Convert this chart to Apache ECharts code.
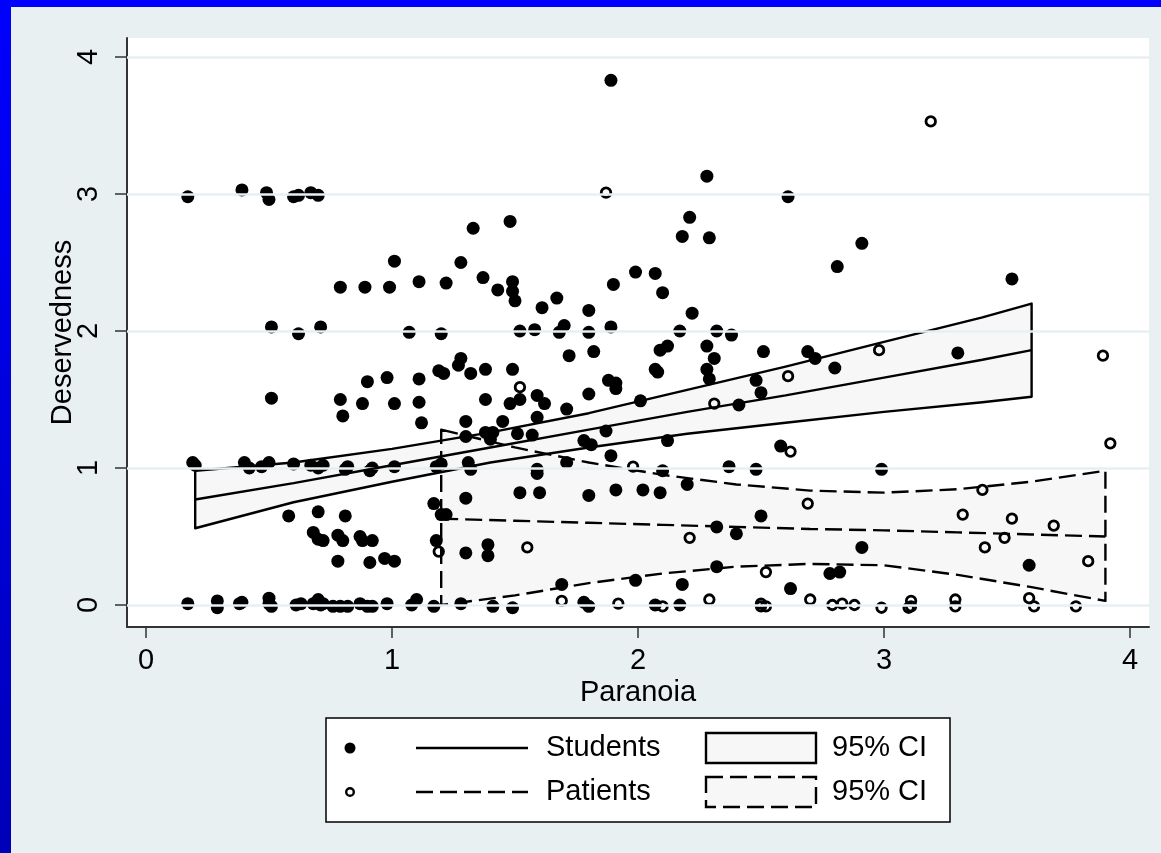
<!DOCTYPE html>
<html>
<head>
<meta charset="utf-8">
<script src="https://cdn.jsdelivr.net/npm/echarts@6/dist/echarts.min.js"></script>
<style>
  html, body { margin: 0; padding: 0; background: #E8F0F2; }
  #chart { width: 1161px; height: 853px; }
</style>
</head>
<body>
<div id="chart"></div>
<script>
// Students: [paranoia, deservedness]
const students = [
  [1.89,3.83],[0.17,2.98],[0.39,3.03],[0.49,3.01],[0.50,2.96],[0.60,2.98],[0.62,2.99],[0.67,3.01],[0.70,2.99],
  [2.28,3.13],[2.61,2.98],[1.48,2.80],[1.33,2.75],[2.21,2.83],[2.18,2.69],[2.29,2.68],[2.91,2.64],[1.28,2.50],
  [1.01,2.51],[2.81,2.47],[1.99,2.43],[2.07,2.42],[1.37,2.39],[3.52,2.38],[0.79,2.32],[0.89,2.32],[0.99,2.32],
  [1.11,2.36],[1.22,2.35],[1.43,2.30],[1.49,2.36],[1.49,2.29],[1.50,2.22],[1.90,2.34],[2.10,2.28],[1.67,2.24],
  [1.61,2.17],[1.80,2.15],[2.22,2.13],[0.51,2.03],[0.62,1.98],[0.71,2.03],[1.07,1.99],[1.20,1.98],[1.52,2.00],
  [1.58,2.01],[1.68,1.99],[1.70,2.04],[1.80,1.99],[1.89,2.03],[2.17,2.00],[2.32,2.00],[2.38,1.97],[1.72,1.82],
  [1.82,1.85],[2.09,1.86],[2.12,1.89],[2.28,1.89],[2.31,1.80],[2.51,1.85],[2.69,1.85],[2.72,1.80],[2.80,1.73],
  [3.30,1.84],[1.11,1.65],[1.19,1.71],[1.21,1.69],[1.28,1.80],[1.27,1.75],[1.32,1.69],[1.38,1.72],[1.49,1.72],
  [2.07,1.72],[2.08,1.70],[2.28,1.72],[2.29,1.65],[1.88,1.64],[1.91,1.62],[1.91,1.58],[1.80,1.54],[2.48,1.64],
  [2.50,1.55],[2.41,1.46],[0.90,1.63],[0.98,1.66],[0.51,1.51],[0.79,1.50],[0.80,1.38],[0.88,1.47],[1.01,1.47],
  [1.11,1.48],[1.38,1.50],[1.48,1.47],[1.52,1.50],[1.59,1.53],[1.62,1.47],[1.71,1.43],[2.01,1.49],[1.12,1.33],
  [1.30,1.34],[1.45,1.34],[1.59,1.37],[1.87,1.27],[1.51,1.25],[1.57,1.24],[1.30,1.23],[1.38,1.26],[1.40,1.21],
  [1.41,1.26],[1.78,1.20],[1.81,1.17],[2.12,1.20],[1.89,1.09],[2.58,1.16],[1.20,1.03],[1.18,1.01],[1.31,1.04],
  [1.32,0.99],[1.71,1.04],[1.59,0.99],[1.59,0.96],[2.10,0.98],[2.37,1.01],[2.48,0.99],[2.99,0.99],[2.20,0.88],
  [2.50,0.65],[2.32,0.57],[2.40,0.52],[2.91,0.42],[3.59,0.29],[2.32,0.28],[2.78,0.23],[2.82,0.24],[2.62,0.12],
  [1.52,0.82],[1.60,0.82],[1.80,0.80],[1.91,0.84],[2.02,0.84],[2.09,0.82],[1.30,0.78],[1.17,0.74],
  [0.19,1.04],[0.20,1.02],[0.40,1.04],[0.42,1.00],[0.47,1.01],[0.50,1.04],[0.60,1.03],[0.67,1.02],[0.70,1.00],
  [0.72,1.02],[0.81,0.99],[0.82,1.01],[0.91,0.98],[0.92,1.00],[1.01,1.01],
  [0.58,0.65],[0.81,0.65],[0.70,0.68],[0.68,0.53],[0.70,0.48],[0.72,0.47],[0.78,0.51],[0.80,0.47],[0.87,0.50],
  [0.88,0.47],[0.92,0.47],[0.78,0.32],[0.91,0.31],[0.97,0.34],[1.01,0.32],[1.18,0.47],[1.20,0.66],[1.22,0.66],
  [1.30,0.38],[1.39,0.44],[1.39,0.36],
  [0.17,0.01],[0.29,0.03],[0.29,-0.02],[0.38,0.01],[0.39,0.02],[0.50,0.05],[0.50,0.01],[0.51,-0.01],[0.61,0.00],
  [0.63,0.01],[0.68,0.01],[0.70,0.04],[0.71,0.00],[0.72,0.01],[0.76,-0.01],[0.79,-0.01],[0.82,-0.01],[0.87,0.01],
  [0.90,-0.01],[0.92,-0.01],[0.98,0.01],[1.08,0.00],[1.10,0.04],[1.17,-0.01],[1.28,0.01],[1.41,-0.01],[1.49,-0.02],
  [1.78,0.02],[1.80,-0.01],[2.07,0.00],[2.17,0.00],[1.69,0.15],[1.99,0.18],[2.18,0.15]
];

// Patients: [paranoia, deservedness]
const patients = [
  [1.87,3.01],[3.19,3.53],[1.52,1.59],[2.98,1.86],[2.61,1.67],[2.31,1.47],[3.89,1.82],[3.92,1.18],[2.62,1.12],
  [1.98,1.01],[2.69,0.74],[3.40,0.84],[3.32,0.66],[3.52,0.63],[3.49,0.49],[3.69,0.58],[3.41,0.42],[3.83,0.32],
  [2.52,0.24],[2.21,0.49],[1.55,0.42],[1.19,0.39],[1.69,0.03],[1.92,0.01],[2.10,-0.01],[2.29,0.04],[2.50,0.01],
  [2.50,-0.01],[2.52,-0.01],[2.70,0.04],[2.79,0.00],[2.83,0.01],[2.88,0.00],[2.99,-0.02],[3.11,0.03],[3.11,-0.01],
  [3.10,-0.02],[3.29,0.04],[3.29,-0.01],[3.59,0.05],[3.61,-0.01],[3.78,-0.01]
];

// Fitted line and 95% CI, students
const studentFitX  = [0.2, 0.6, 1.0, 1.4, 1.8, 2.2, 2.6, 3.0, 3.4, 3.6];
const studentFit   = [0.77, 0.89, 1.02, 1.15, 1.28, 1.41, 1.53, 1.66, 1.79, 1.86];
const studentUpper = [0.98, 1.04, 1.14, 1.26, 1.40, 1.57, 1.74, 1.92, 2.10, 2.20];
const studentLower = [0.56, 0.75, 0.90, 1.04, 1.15, 1.25, 1.33, 1.41, 1.48, 1.52];

// Fitted line and 95% CI, patients
const patientFitX  = [1.2, 1.5, 1.8, 2.1, 2.4, 2.7, 3.0, 3.3, 3.6, 3.9];
const patientFit   = [0.63, 0.615, 0.60, 0.585, 0.57, 0.555, 0.545, 0.53, 0.515, 0.50];
const patientUpper = [1.28, 1.15, 1.04, 0.95, 0.88, 0.835, 0.82, 0.845, 0.90, 0.98];
const patientLower = [0.00, 0.07, 0.16, 0.23, 0.28, 0.30, 0.29, 0.22, 0.13, 0.03];

const xTicks = [0, 1, 2, 3, 4];
const yTicks = [0, 1, 2, 3, 4];

const FONT = "'Liberation Sans', Arial, Helvetica, sans-serif";
const FS = 29;
const DASH = [17, 7];
const zip = (xs, ys) => xs.map((x, i) => [x, ys[i]]);

// Closed band polygon (upper edge left→right, lower edge right→left)
function bandSeries(xs, up, lo, mode, dashed, z) {
  return {
    type: 'custom',
    z: z,
    silent: true,
    data: [[xs[0], up[0]]],
    renderItem: function (params, api) {
      const pts = [];
      xs.forEach((x, i) => pts.push(api.coord([x, up[i]])));
      for (let i = xs.length - 1; i >= 0; i--) pts.push(api.coord([xs[i], lo[i]]));
      const style = mode === 'fill'
        ? { fill: '#F7F7F7', stroke: null }
        : { fill: null, stroke: '#000', lineWidth: 2.4, lineDash: dashed ? DASH : null, lineJoin: 'round' };
      return { type: 'polygon', shape: { points: pts }, style: style };
    }
  };
}

const chart = echarts.init(document.getElementById('chart'), null, { renderer: 'canvas' });

// Legend geometry
const LX = 326, LY = 718, LW = 624, LH = 104;
const row1 = 748, row2 = 792;

chart.setOption({
  backgroundColor: '#E8F0F2',
  animation: false,
  textStyle: { fontFamily: FONT },
  grid: {
    left: 127, right: 12, top: 38, bottom: 226,
    show: true, backgroundColor: '#FFFFFF', borderWidth: 0
  },
  xAxis: {
    type: 'value',
    min: -0.0772, max: 4.0772,
    name: 'Paranoia',
    nameLocation: 'middle',
    nameGap: 51,
    nameMoveOverlap: false,
    nameTextStyle: { fontSize: FS, color: '#000', fontFamily: FONT },
    axisLine: { onZero: false, lineStyle: { color: '#333', width: 2 } },
    axisTick: { length: 11, customValues: xTicks, lineStyle: { color: '#333', width: 1.5 } },
    axisLabel: { customValues: xTicks, fontSize: FS, color: '#000', margin: 19, fontFamily: FONT },
    splitLine: { show: false }
  },
  yAxis: {
    type: 'value',
    min: -0.1606, max: 4.1387,
    name: 'Deservedness',
    nameLocation: 'middle',
    nameGap: 50,
    nameMoveOverlap: false,
    nameTextStyle: { fontSize: FS, color: '#000', fontFamily: FONT },
    axisLine: { onZero: false, lineStyle: { color: '#333', width: 2 } },
    axisTick: { length: 12, customValues: yTicks, lineStyle: { color: '#333', width: 1.5 } },
    axisLabel: { customValues: yTicks, rotate: 90, fontSize: FS, color: '#000', margin: 24, fontFamily: FONT },
    splitLine: { show: false }
  },
  graphic: [
    { type: 'rect', z: 100, shape: { x: 0, y: 0, width: 1161, height: 7 }, style: { fill: '#0000FF' } },
    { type: 'rect', z: 100, shape: { x: 0, y: 0, width: 11, height: 853 },
      style: { fill: new echarts.graphic.LinearGradient(0, 0, 0, 1, [
        { offset: 0, color: '#0000FF' }, { offset: 1, color: '#0000B8' }]) } },
    // legend frame
    { type: 'rect', z: 100, shape: { x: LX, y: LY, width: LW, height: LH },
      style: { fill: '#FFFFFF', stroke: '#000', lineWidth: 1.5 } },
    { type: 'circle', z: 101, shape: { cx: 350, cy: row1, r: 5.5 }, style: { fill: '#000' } },
    { type: 'circle', z: 101, shape: { cx: 350, cy: row2, r: 3.8 }, style: { fill: null, stroke: '#000', lineWidth: 2.4 } },
    { type: 'line', z: 101, shape: { x1: 416, y1: row1, x2: 528, y2: row1 }, style: { stroke: '#000', lineWidth: 2.4 } },
    { type: 'line', z: 101, shape: { x1: 416, y1: row2, x2: 528, y2: row2 }, style: { stroke: '#000', lineWidth: 2.4, lineDash: DASH } },
    { type: 'text', z: 101, style: { x: 546, y: row1, text: 'Students', fontSize: FS, fontFamily: FONT, fill: '#000', verticalAlign: 'middle' } },
    { type: 'text', z: 101, style: { x: 546, y: row2, text: 'Patients', fontSize: FS, fontFamily: FONT, fill: '#000', verticalAlign: 'middle' } },
    { type: 'rect', z: 101, shape: { x: 706, y: row1 - 15, width: 110, height: 30 },
      style: { fill: '#F7F7F7', stroke: '#000', lineWidth: 2.4 } },
    { type: 'rect', z: 101, shape: { x: 706, y: row2 - 15, width: 110, height: 30 },
      style: { fill: '#F7F7F7', stroke: '#000', lineWidth: 2.4, lineDash: DASH } },
    { type: 'text', z: 101, style: { x: 832, y: row1, text: '95% CI', fontSize: FS, fontFamily: FONT, fill: '#000', verticalAlign: 'middle' } },
    { type: 'text', z: 101, style: { x: 832, y: row2, text: '95% CI', fontSize: FS, fontFamily: FONT, fill: '#000', verticalAlign: 'middle' } }
  ],
  series: [
    bandSeries(studentFitX, studentUpper, studentLower, 'fill', false, 1),
    bandSeries(patientFitX, patientUpper, patientLower, 'fill', true, 1),
    {
      // horizontal grid lines at the y ticks
      type: 'line', data: [], z: 2, silent: true,
      markLine: {
        silent: true, symbol: 'none', label: { show: false }, animation: false,
        lineStyle: { color: '#E8EFF2', width: 2.5, type: 'solid' },
        data: yTicks.map(v => ({ yAxis: v }))
      }
    },
    bandSeries(studentFitX, studentUpper, studentLower, 'stroke', false, 3),
    bandSeries(patientFitX, patientUpper, patientLower, 'stroke', true, 3),
    {
      name: 'Students', type: 'scatter', z: 4, data: students,
      symbol: 'circle', symbolSize: 13,
      itemStyle: { color: '#000', opacity: 1 }
    },
    {
      name: 'Patients', type: 'scatter', z: 4, data: patients,
      symbol: 'circle', symbolSize: 9.5,
      itemStyle: { color: 'rgba(255,255,255,0)', borderColor: '#000', borderWidth: 2.8, opacity: 1 }
    },
    {
      type: 'line', z: 5, data: zip(studentFitX, studentFit), symbol: 'none', silent: true,
      lineStyle: { color: '#000', width: 2.4 }
    },
    {
      type: 'line', z: 5, data: zip(patientFitX, patientFit), symbol: 'none', silent: true,
      lineStyle: { color: '#000', width: 2.4, type: DASH }
    }
  ]
});
</script>
</body>
</html>
